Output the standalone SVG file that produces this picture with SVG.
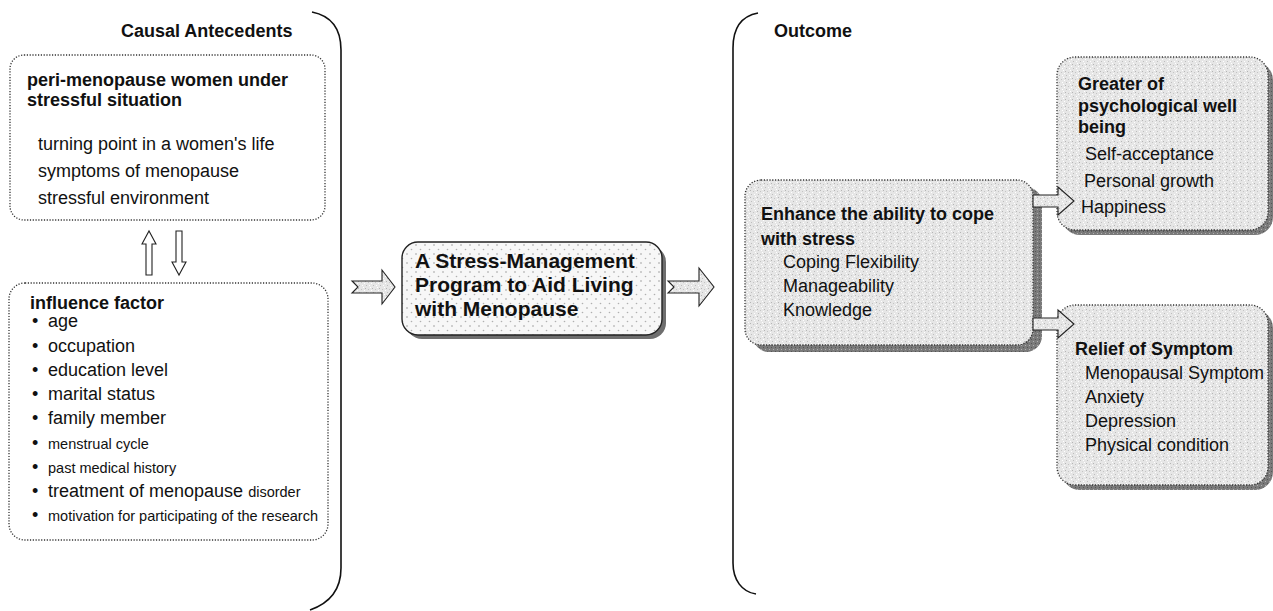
<svg xmlns="http://www.w3.org/2000/svg" width="1273" height="611" viewBox="0 0 1273 611">
<style>
text{font-family:"Liberation Sans",Arial,sans-serif;fill:#111}
.h{font-size:18px;font-weight:bold}
.t{font-size:18px}
.s{font-size:14.5px}
.c{font-size:21px;font-weight:bold}
.box{fill:#fff;stroke:#333;stroke-width:1.3;stroke-dasharray:1.2 1.6}
.gbox{fill:url(#noise);stroke:#333;stroke-width:1.3;stroke-dasharray:1.2 1.6}
.shadow{fill:url(#dnoise)}
.brace{fill:none;stroke:#111;stroke-width:1.6}
.arr{fill:#fff;stroke:#222;stroke-width:1.1}
.garr{fill:url(#noise);stroke:#222;stroke-width:1.1}
</style>
<defs>
<pattern id="dots" width="9" height="9" patternUnits="userSpaceOnUse">
<rect width="9" height="9" fill="#f7f7f7"/>
<circle cx="2" cy="2" r="0.8" fill="#9a9a9a"/>
<circle cx="6.5" cy="6.5" r="0.8" fill="#b0b0b0"/>
</pattern>
<pattern id="noise" width="7" height="7" patternUnits="userSpaceOnUse">
<rect width="7" height="7" fill="#e6e6e6"/>
<rect x="1" y="1" width="1" height="1" fill="#b5b5b5"/>
<rect x="4" y="2" width="1" height="1" fill="#c4c4c4"/>
<rect x="2" y="5" width="1" height="1" fill="#bdbdbd"/>
<rect x="5" y="5" width="1" height="1" fill="#fff"/>
<rect x="6" y="0" width="1" height="1" fill="#fff"/>
<rect x="0" y="3" width="1" height="1" fill="#fff"/>
</pattern>
<pattern id="dnoise" width="4" height="4" patternUnits="userSpaceOnUse">
<rect width="4" height="4" fill="#7a7a7a"/>
<rect x="1" y="1" width="1" height="1" fill="#b0b0b0"/>
<rect x="3" y="3" width="1" height="1" fill="#555"/>
</pattern>
</defs>

<g id="braces">
<path class="brace" d="M 312 12 C 332 16 341 30 341 50 L 341 568 C 341 590 330 603 310 610"/>
<path class="brace" d="M 758 13 C 742 16 733 28 733 48 L 733 563 C 733 580 742 592 756 594"/>
</g>

<g id="label-causal"><text class="h" x="121" y="37">Causal Antecedents</text></g>
<g id="label-outcome"><text class="h" x="774" y="37">Outcome</text></g>

<g id="node-peri">
<rect class="box" x="10" y="55" width="315" height="165" rx="14"/>
<text class="h" x="27" y="86">peri-menopause women under</text>
<text class="h" x="27" y="106">stressful situation</text>
<text class="t" x="38" y="150">turning point in a women's life</text>
<text class="t" x="38" y="177">symptoms of menopause</text>
<text class="t" x="38" y="204">stressful environment</text>
</g>

<g id="node-influence">
<rect class="box" x="9" y="283" width="319" height="257" rx="16"/>
<text class="h" x="30" y="309">influence factor</text>
<text class="t" x="32" y="327">•</text><text class="t" x="48" y="327">age</text>
<text class="t" x="32" y="352">•</text><text class="t" x="48" y="352">occupation</text>
<text class="t" x="32" y="376">•</text><text class="t" x="48" y="376">education level</text>
<text class="t" x="32" y="400">•</text><text class="t" x="48" y="400">marital status</text>
<text class="t" x="32" y="424">•</text><text class="t" x="48" y="424">family member</text>
<text class="t" x="32" y="449">•</text><text class="s" x="48" y="449">menstrual cycle</text>
<text class="t" x="32" y="473">•</text><text class="s" x="48" y="473">past medical history</text>
<text class="t" x="32" y="497">•</text><text class="t" x="48" y="497">treatment of menopause <tspan class="s">disorder</tspan></text>
<text class="t" x="32" y="521">•</text><text class="s" x="48" y="521">motivation for participating of the research</text>
</g>

<g id="node-program">
<rect x="406" y="246" width="260" height="93" rx="16" fill="#6e6e6e"/>
<rect x="402" y="242" width="260" height="93" rx="16" fill="url(#dots)" stroke="#222" stroke-width="1.4"/>
<text class="c" x="415" y="268">A Stress-Management</text>
<text class="c" x="415" y="292">Program to Aid Living</text>
<text class="c" x="415" y="316">with Menopause</text>
</g>

<g id="node-enhance">
<rect class="shadow" x="753" y="187" width="289" height="165" rx="16"/>
<rect class="gbox" x="745" y="180" width="288" height="165" rx="16"/>
<text class="h" x="761" y="220">Enhance the ability to cope</text>
<text class="h" x="761" y="245">with stress</text>
<text class="t" x="783" y="268">Coping Flexibility</text>
<text class="t" x="783" y="292">Manageability</text>
<text class="t" x="783" y="316">Knowledge</text>
</g>

<g id="node-wellbeing">
<rect class="shadow" x="1062" y="62" width="211" height="173" rx="18"/>
<rect class="gbox" x="1057" y="57" width="211" height="173" rx="18"/>
<text class="h" x="1078" y="90">Greater of</text>
<text class="h" x="1078" y="112">psychological well</text>
<text class="h" x="1078" y="133">being</text>
<text class="t" x="1085" y="160">Self-acceptance</text>
<text class="t" x="1084" y="187">Personal growth</text>
<text class="t" x="1081" y="213">Happiness</text>
</g>

<g id="node-relief">
<rect class="shadow" x="1062" y="310" width="211" height="180" rx="18"/>
<rect class="gbox" x="1057" y="305" width="211" height="180" rx="18"/>
<text class="h" x="1075" y="355">Relief of Symptom</text>
<text class="t" x="1085" y="379">Menopausal Symptom</text>
<text class="t" x="1085" y="403">Anxiety</text>
<text class="t" x="1085" y="427">Depression</text>
<text class="t" x="1085" y="451">Physical condition</text>
</g>

<g id="connectors">
<polygon class="arr" points="146,275 146,244 142,244 149,231 156,244 152,244 152,275"/>
<polygon class="arr" points="176,231 182,231 182,262 186,262 179,275 172,262 176,262"/>
<polygon class="garr" points="352,281 382,281 382,270 395,287 382,304 382,293 352,293 358,287"/>
<polygon class="garr" points="668,281 699,281 699,268 714,287 699,306 699,293 668,293 674,287"/>
<polygon class="garr" points="1033,195 1058,195 1058,187 1074,201 1058,215 1058,207 1033,207"/>
<polygon class="garr" points="1033,318 1058,318 1058,310 1074,324 1058,338 1058,330 1033,330"/>
</g>
</svg>
